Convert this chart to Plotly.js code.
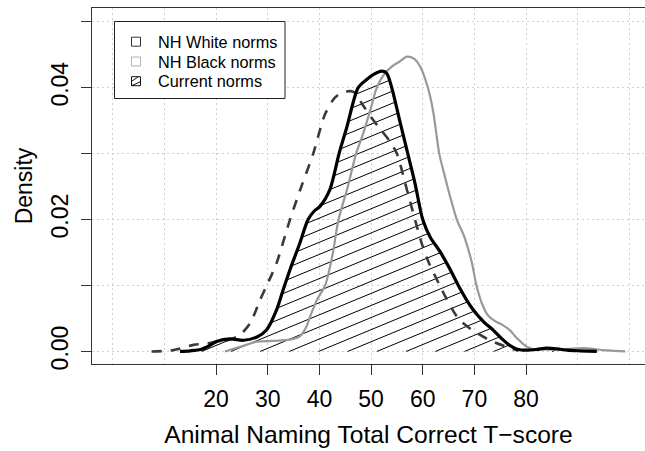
<!DOCTYPE html>
<html><head><meta charset="utf-8">
<script src="https://cdn.plot.ly/plotly-3.0.1.min.js"></script>
<style>html,body{margin:0;padding:0;background:#fff}</style>
</head><body><div id="chart" style="width:645px;height:451px"></div>
<script>
// ---- data ----
const currentX = [13, 15, 17, 18.5, 20.1, 22.7, 25.3, 27.9, 29.8, 31.7, 33, 34.3, 36.2, 37.8, 39, 40.1, 42, 43.8, 45.3, 47.5, 49.1, 50.5, 52, 53, 54, 55.6, 57.1, 58.5, 60, 61.4, 63.3, 65.2, 66.9, 68.5, 69.8, 71.8, 73.7, 75.5, 76.9, 78.5, 80, 82, 84, 86, 88, 90.4, 93.7];
const currentY = [0, 0.0001, 0.0003, 0.0008, 0.0015, 0.0019, 0.0017, 0.0022, 0.0033, 0.0063, 0.0094, 0.0124, 0.0164, 0.02, 0.0213, 0.022, 0.0245, 0.03, 0.034, 0.04, 0.0412, 0.042, 0.0425, 0.0422, 0.04, 0.0348, 0.03, 0.0255, 0.02, 0.0174, 0.0152, 0.0126, 0.01, 0.0078, 0.0063, 0.0045, 0.0032, 0.0018, 0.0009, 0.0003, 0.0002, 0.0003, 0.0005, 0.0004, 0.0002, 0.0001, 0];

const whiteX = [7.5, 11.7, 15.6, 18.2, 20.1, 22.7, 24.6, 26.6, 28.5, 29.8, 31.7, 34.3, 36.5, 38.8, 41.1, 43, 44.5, 46.5, 48.3, 50, 51.7, 53.5, 55, 56.6, 58.5, 59.8, 61.1, 63.3, 64.6, 66.9, 69.5, 73, 76.6, 78.5];
const whiteY = [0, 0.0002, 0.001, 0.0012, 0.0015, 0.0018, 0.0025, 0.0043, 0.0078, 0.01, 0.0134, 0.02, 0.025, 0.03, 0.036, 0.0385, 0.0393, 0.0394, 0.0375, 0.0355, 0.0338, 0.032, 0.03, 0.0255, 0.02, 0.0164, 0.0136, 0.01, 0.008, 0.005, 0.0033, 0.0017, 0.0006, 0.0001];

const blackX = [21.7, 24.6, 27.9, 31.1, 34.3, 36.2, 37.5, 38.2, 39.5, 41.1, 42.5, 43.7, 45.5, 47.1, 48.5, 50, 51.1, 52.5, 54, 55.6, 56.9, 58.3, 59.5, 61, 62, 63.2, 64.3, 65.3, 66.6, 68, 69.5, 70.4, 71.5, 72.6, 74, 75.5, 76.9, 78, 78.8, 80, 81.1, 83, 86, 88.5, 91.1, 93, 95, 97, 99.2];
const blackY = [0, 0.0007, 0.0015, 0.0016, 0.0018, 0.0023, 0.0038, 0.0053, 0.0078, 0.01, 0.0145, 0.02, 0.025, 0.03, 0.0331, 0.037, 0.04, 0.042, 0.0432, 0.044, 0.0447, 0.0444, 0.0432, 0.04, 0.0365, 0.03, 0.0265, 0.0235, 0.02, 0.0175, 0.0135, 0.01, 0.0072, 0.0055, 0.0046, 0.004, 0.0032, 0.0022, 0.0016, 0.0008, 0.0004, 0.0003, 0.0003, 0.0004, 0.0005, 0.0004, 0.0002, 0.0001, 0];

const xTickVals = [20, 30, 40, 50, 60, 70, 80];
const yTickVals = [0, 0.01, 0.02, 0.03, 0.04, 0.05];
const yTickText = ['0.00', '', '0.02', '', '0.04', ''];
const legendLabels = ['NH White norms', 'NH Black norms', 'Current norms'];
const xTitle = 'Animal Naming Total Correct T\u2212score';
const yTitle = 'Density';

// ---- layout geometry ----
const W = 645, H = 451;
const M = {l: 92, r: 0, t: 8, b: 87};
const xRange = [-4.03, 103.03];
const yRange = [-0.0019, 0.05208];
const plotW = W - M.l - M.r, plotH = H - M.t - M.b;
const pxPerX = plotW / (xRange[1] - xRange[0]);
const pxPerY = plotH / (yRange[1] - yRange[0]);
const FONT = '"Liberation Sans", Arial, Helvetica, sans-serif';

// ---- hatch lines under the current-norms density ----
function interp(xs, ys, x) {
  if (x <= xs[0] || x >= xs[xs.length - 1]) return 0;
  for (let i = 1; i < xs.length; i++) {
    if (x <= xs[i]) {
      const t = (x - xs[i - 1]) / (xs[i] - xs[i - 1]);
      return ys[i - 1] + t * (ys[i] - ys[i - 1]);
    }
  }
  return 0;
}
const hatchTan = 0.414;            // slope in screen pixels
const hatchGapPx = 29.2;           // horizontal gap between lines at baseline (px)
const hatchPhase = 28.5;           // a baseline crossing (data x)
const dataSlope = hatchTan * pxPerX / pxPerY;
const gapX = hatchGapPx / pxPerX;
const hx = [], hy = [];
const xa = currentX[0], xb = currentX[currentX.length - 1], step = 0.02;
for (let k = -60; k <= 20; k++) {
  const x0 = hatchPhase + k * gapX;
  let inSeg = false, sx = 0;
  for (let x = xa; x <= xb + step; x += step) {
    const L = dataSlope * (x - x0);
    const f = interp(currentX, currentY, x);
    const inside = L >= 0 && L <= f && x <= xb;
    if (inside && !inSeg) { inSeg = true; sx = x; }
    if (!inside && inSeg) {
      inSeg = false;
      const ex = x - step;
      if (ex - sx > 0.05) {
        hx.push(sx, ex, null);
        hy.push(dataSlope * (sx - x0), dataSlope * (ex - x0), null);
      }
    }
  }
}

const traces = [
  {x: hx, y: hy, mode: 'lines', line: {color: '#000', width: 1}, hoverinfo: 'skip', showlegend: false},
  {x: blackX, y: blackY, mode: 'lines', name: legendLabels[1], line: {color: '#999999', width: 2.2, shape: 'spline', smoothing: 0.8}, showlegend: false},
  {x: whiteX, y: whiteY, mode: 'lines', name: legendLabels[0], line: {color: '#3a3a3a', width: 2.6, dash: '10px,9px', shape: 'spline', smoothing: 0.8}, showlegend: false},
  {x: currentX, y: currentY, mode: 'lines', name: legendLabels[2], line: {color: '#000', width: 3.2, shape: 'spline', smoothing: 0.8}, showlegend: false}
];

// ---- legend drawn as shapes + text (pixel helpers) ----
const px2paperX = p => (p - M.l) / plotW;
const px2paperY = p => (M.t + plotH - p) / plotH;
const shapes = [];
const annotations = [];
const lgBox = {x0: 114.5, y0: 21.5, x1: 285, y1: 98.5};
shapes.push({type: 'rect', xref: 'paper', yref: 'paper', x0: px2paperX(lgBox.x0), x1: px2paperX(lgBox.x1), y0: px2paperY(lgBox.y1), y1: px2paperY(lgBox.y0), line: {color: '#222', width: 1}, fillcolor: '#fff', layer: 'above'});
const rowY = [41.7, 61.5, 81.2];
const boxColors = ['#333333', '#b0b0b0', '#111111'];
const sq = 4.5, sqCx = 136;
rowY.forEach((cy, i) => {
  shapes.push({type: 'rect', xref: 'paper', yref: 'paper', x0: px2paperX(sqCx - sq), x1: px2paperX(sqCx + sq), y0: px2paperY(cy + sq), y1: px2paperY(cy - sq), line: {color: boxColors[i], width: 1}, fillcolor: '#fff', layer: 'above'});
  annotations.push({text: legendLabels[i], xref: 'paper', yref: 'paper', x: px2paperX(156), y: px2paperY(cy), xanchor: 'left', yanchor: 'middle', showarrow: false, font: {family: FONT, size: 16.3, color: '#000'}});
});
// hatch marks in the legend key
[[sqCx - sq, rowY[2] + sq, sqCx + sq, rowY[2] + 0.5], [sqCx - sq, rowY[2] + 0.2, sqCx + sq - 2, rowY[2] - sq]].forEach(s => {
  shapes.push({type: 'line', xref: 'paper', yref: 'paper', x0: px2paperX(s[0]), y0: px2paperY(s[1]), x1: px2paperX(s[2]), y1: px2paperY(s[3]), line: {color: '#111', width: 1}, layer: 'above'});
});

const gridStyle = {gridcolor: '#cfcfcf', griddash: '2px,3px', gridwidth: 1};
const layout = {
  width: W, height: H,
  margin: M,
  paper_bgcolor: '#fff', plot_bgcolor: '#fff',
  font: {family: FONT, color: '#000'},
  showlegend: false,
  xaxis: Object.assign({
    range: xRange, autorange: false, fixedrange: true,
    tickmode: 'array', tickvals: xTickVals, ticktext: xTickVals.map(String),
    ticks: 'outside', ticklen: 10, tickwidth: 1, tickcolor: '#333',
    showline: true, linecolor: '#333', linewidth: 1, mirror: true,
    zeroline: false, showgrid: true,
    minor: Object.assign({tickmode: 'linear', tick0: 0, dtick: 10, showgrid: true, ticks: ''}, gridStyle),
    tickfont: {family: FONT, size: 23, color: '#000'},
    ticklabelstandoff: 4,
    title: {text: xTitle, font: {family: FONT, size: 24.6, color: '#000'}, standoff: 15}
  }, gridStyle),
  yaxis: Object.assign({
    range: yRange, autorange: false, fixedrange: true,
    tickmode: 'array', tickvals: yTickVals, ticktext: yTickText,
    ticks: 'outside', ticklen: 10, tickwidth: 1, tickcolor: '#333',
    showline: true, linecolor: '#333', linewidth: 1, mirror: false,
    zeroline: false, showgrid: true, tickangle: -90,
    tickfont: {family: FONT, size: 23, color: '#000'},
    ticklabelstandoff: 4,
    title: {text: yTitle, font: {family: FONT, size: 23, color: '#000'}, standoff: 7}
  }, gridStyle),
  shapes: shapes,
  annotations: annotations
};

Plotly.newPlot('chart', traces, layout, {staticPlot: true, displayModeBar: false});
</script>
</body></html>
